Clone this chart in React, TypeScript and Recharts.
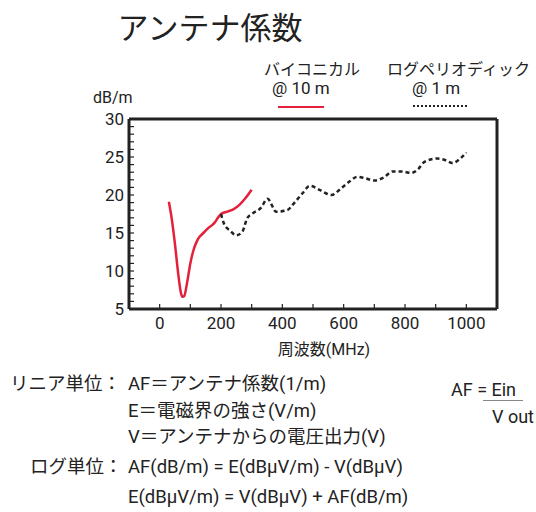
import { LineChart, Line, XAxis, YAxis } from 'recharts'

// バイコニカル @10 m
const biconicalFreq = [30, 40, 50, 60, 70, 75, 80, 90, 100, 110, 120, 130, 140, 150, 160, 170, 180, 190, 200, 220, 240, 260, 280, 300]
const biconicalAF = [19.1, 16.7, 13.5, 9.8, 7.0, 6.6, 6.7, 8.6, 11.0, 12.7, 13.8, 14.5, 14.9, 15.3, 15.7, 16.0, 16.4, 17.0, 17.5, 17.8, 18.1, 18.7, 19.6, 20.7]

// ログペリオディック @1 m
const logPeriodicFreq = [200, 210, 230, 250, 270, 285, 300, 330, 352, 380, 415, 440, 465, 490, 525, 560, 595, 620, 645, 670, 700, 730, 760, 790, 820, 840, 865, 905, 930, 955, 980, 1000]
const logPeriodicAF = [17.5, 16.2, 15.3, 14.7, 15.2, 16.9, 17.5, 18.3, 19.5, 17.8, 18.0, 19.0, 20.2, 21.2, 20.6, 20.0, 21.0, 21.8, 22.4, 22.2, 21.9, 22.3, 23.1, 23.1, 22.9, 23.3, 24.4, 24.8, 24.6, 24.2, 24.8, 25.6]

const xTicks = [0, 100, 200, 300, 400, 500, 600, 700, 800, 900, 1000]
const yTicks = [5, 6, 7, 8, 9, 10, 11, 12, 13, 14, 15, 16, 17, 18, 19, 20, 21, 22, 23, 24, 25, 26, 27, 28, 29, 30]

const biconical = biconicalFreq.map((f, i) => ({ f, v: biconicalAF[i] }))
const logPeriodic = logPeriodicFreq.map((f, i) => ({ f, v: logPeriodicAF[i] }))

const FONT = "Roboto, 'Noto Sans CJK JP', sans-serif"
const INK = '#222'
const RED = '#e4203a'

function BottomTick({ x, y, payload }: any) {
  const axisY = y - 6
  const v = payload.value
  return (
    <g>
      <line x1={x} x2={x} y1={axisY} y2={axisY - 5} stroke={INK} strokeWidth={1.2} />
      {v % 200 === 0 && (
        <text x={x} y={axisY + 20} textAnchor="middle" fontSize={17} fill={INK} fontFamily={FONT}>
          {v}
        </text>
      )}
    </g>
  )
}

function LeftTick({ x, y, payload }: any) {
  const axisX = x + 6
  const v = payload.value
  return (
    <g>
      <line x1={axisX} x2={axisX + 5} y1={y} y2={y} stroke={INK} strokeWidth={1.2} />
      {v % 5 === 0 && (
        <text x={axisX - 5} y={y} dy="0.36em" textAnchor="end" fontSize={17} fill={INK} fontFamily={FONT}>
          {v}
        </text>
      )}
    </g>
  )
}

function RightTick({ x, y }: any) {
  const axisX = x - 6
  return <line x1={axisX} x2={axisX - 3} y1={y} y2={y} stroke="#999" strokeWidth={1} />
}

function Label({ x, y, size, children, center }: any) {
  return (
    <div
      style={{
        position: 'absolute',
        left: x,
        top: y,
        transform: center ? 'translate(-50%, -50%)' : 'translateY(-50%)',
        fontSize: size,
        lineHeight: 1,
        whiteSpace: 'nowrap',
        color: INK,
        fontFamily: FONT,
      }}
    >
      {children}
    </div>
  )
}

export default function App() {
  return (
    <div style={{ position: 'fixed', left: 0, top: 0, width: 536, height: 512, background: '#fff' }}>
      <LineChart width={536} height={512} margin={{ top: 118, right: 38, bottom: 173, left: 89 }}>
        <XAxis
          xAxisId="top"
          orientation="top"
          type="number"
          domain={[-100, 1100]}
          height={1}
          tick={false}
          tickLine={false}
          axisLine={{ stroke: INK, strokeWidth: 3 }}
        />
        <XAxis
          dataKey="f"
          type="number"
          domain={[-100, 1100]}
          ticks={xTicks}
          interval={0}
          height={30}
          tickLine={false}
          tickMargin={0}
          tick={<BottomTick />}
          axisLine={{ stroke: INK, strokeWidth: 3 }}
        />
        <YAxis
          type="number"
          domain={[5, 30]}
          ticks={yTicks}
          interval={0}
          width={40}
          tickLine={false}
          tickMargin={0}
          tick={<LeftTick />}
          axisLine={{ stroke: INK, strokeWidth: 3 }}
        />
        <YAxis
          yAxisId="right"
          orientation="right"
          type="number"
          domain={[5, 30]}
          ticks={yTicks}
          interval={0}
          width={1}
          tickLine={false}
          tickMargin={0}
          tick={<RightTick />}
          axisLine={{ stroke: INK, strokeWidth: 3 }}
        />
        <Line
          data={biconical}
          dataKey="v"
          type="monotone"
          stroke={RED}
          strokeWidth={2.5}
          dot={false}
          isAnimationActive={false}
        />
        <Line
          data={logPeriodic}
          dataKey="v"
          type="monotone"
          stroke={INK}
          strokeWidth={2.5}
          strokeDasharray="4 3"
          dot={false}
          isAnimationActive={false}
        />
      </LineChart>

      <Label x={210} y={28} size={31} center>アンテナ係数</Label>

      <Label x={264} y={70} size={16}>バイコニカル</Label>
      <Label x={272} y={88} size={17}>@ 10 m</Label>
      <div style={{ position: 'absolute', left: 278, top: 106, width: 46, height: 2, background: RED }} />
      <Label x={387} y={70} size={16}>ログペリオディック</Label>
      <Label x={412} y={88} size={17}>@ 1 m</Label>
      <div style={{ position: 'absolute', left: 413, top: 105, width: 54, height: 0, borderTop: `2px dotted ${INK}` }} />

      <Label x={93} y={98} size={16}>dB/m</Label>
      <Label x={324} y={350} size={16} center>周波数(MHz)</Label>

      <Label x={10} y={384} size={18.5}>リニア単位：</Label>
      <Label x={128} y={384} size={18.5}>AF＝アンテナ係数(1/m)</Label>
      <Label x={128} y={411} size={18.5}>E＝電磁界の強さ(V/m)</Label>
      <Label x={128} y={437} size={18.5}>V＝アンテナからの電圧出力(V)</Label>
      <Label x={30} y={467} size={18.5}>ログ単位：</Label>
      <Label x={128} y={467} size={18.5}>AF(dB/m) = E(dBμV/m) - V(dBμV)</Label>
      <Label x={128} y={497} size={18.5}>E(dBμV/m) = V(dBμV) + AF(dB/m)</Label>

      <Label x={451} y={390} size={18}>AF = Ein</Label>
      <div style={{ position: 'absolute', left: 483, top: 400, width: 40, height: 1, background: '#888' }} />
      <Label x={492} y={417} size={18}>V out</Label>
    </div>
  )
}
